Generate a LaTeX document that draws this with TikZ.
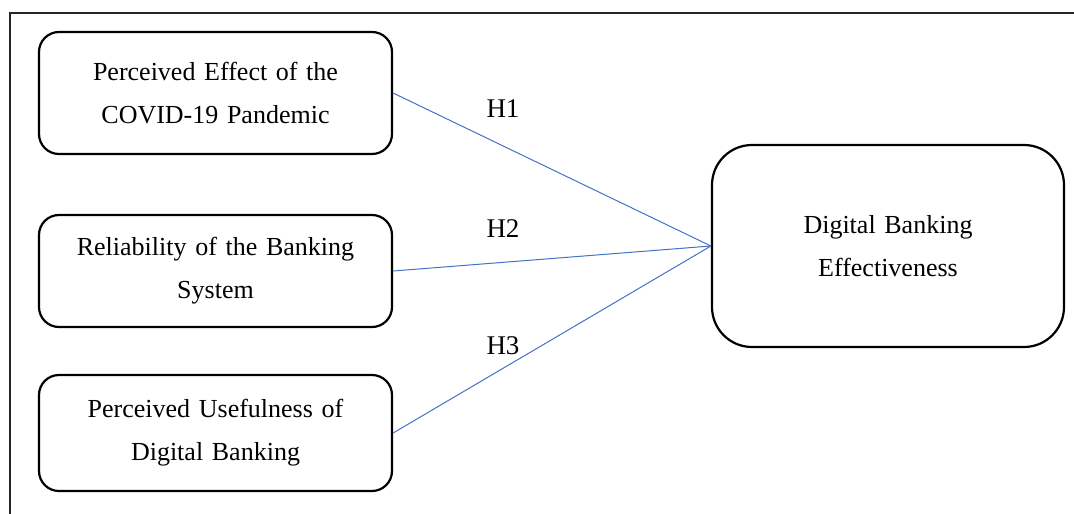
\documentclass[tikz,border=0pt]{standalone}
\usepackage{fontspec}
\setmainfont{Liberation Serif}
\definecolor{linkblue}{RGB}{68,114,196}
\begin{document}
\begin{tikzpicture}[x=1pt,y=-1pt,
  box/.style={draw=black,line width=2.2pt,rounded corners=20pt,align=center,
    font=\fontsize{26}{43}\selectfont,inner sep=0pt,text width=345pt},
  link/.style={draw=linkblue,line width=1pt},
  hyp/.style={font=\fontsize{27}{30}\selectfont,inner sep=0pt}]
\useasboundingbox (0,0) rectangle (1074,514);
\begin{scope}
\clip (0,0) rectangle (1074,514);
\draw[black!85,line width=1.8pt] (10,530) -- (10,13) -- (1090,13);
\end{scope}
\node[box,minimum width=353pt,minimum height=122pt] (b1) at (215.5,93) {Perceived Effect of the\\COVID-19 Pandemic};
\node[box,minimum width=353pt,minimum height=112pt] (b2) at (215.5,271) {Reliability of the Banking\\System};
\node[box,minimum width=353pt,minimum height=116pt] (b3) at (215.5,433) {Perceived Usefulness of\\Digital Banking};
\node[box,rounded corners=40pt,minimum width=352pt,minimum height=202pt] (t) at (888,246) {Digital Banking\\Effectiveness};
\draw[link] (b1.east) -- (t.west);
\draw[link] (b2.east) -- (t.west);
\draw[link] (b3.east) -- (t.west);
\node[hyp] (h1) at (503,109) {H1};
\node[hyp] (h2) at (503,229) {H2};
\node[hyp] (h3) at (503,346) {H3};
\end{tikzpicture}
\end{document}
